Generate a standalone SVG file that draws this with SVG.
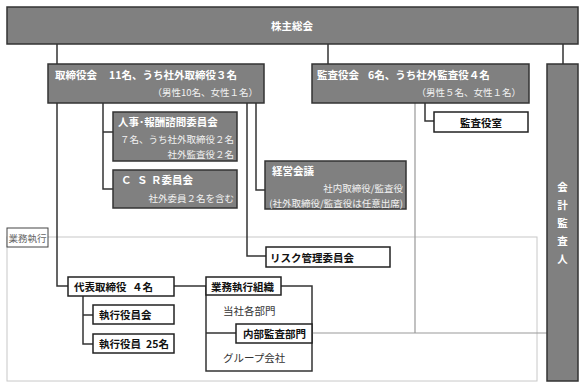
<svg xmlns="http://www.w3.org/2000/svg" width="583" height="386" viewBox="0 0 583 386">
<style>
text{font-family:"Noto Sans CJK JP","Noto Sans",sans-serif;dominant-baseline:central}
.dark{fill:#808080;stroke:#333;stroke-width:1.5}
.wbox{fill:#fff;stroke:#222;stroke-width:1.5}
.tw{fill:#fff;font-weight:bold;font-size:10.5px}
.sw{fill:#f2f2f2;font-size:9.5px}
.tb{fill:#111;font-weight:bold;font-size:10.5px}
.tn{fill:#333;font-size:10.5px}
.con{fill:none;stroke:#333;stroke-width:1.5}
.gcon{fill:none;stroke:#999;stroke-width:1.2}
</style>
<rect width="583" height="386" fill="#fff"/>
<g id="gyomu-area">
<rect x="7" y="237" width="530" height="144" fill="none" stroke="#c8c8c8" stroke-width="1"/>
<rect x="7" y="228" width="41" height="19" fill="#fff" stroke="#444" stroke-width="1"/>
<text x="27.5" y="237.5" text-anchor="middle" fill="#666" font-size="9.5">業務執行</text>
</g>
<g id="connectors">
<path class="con" d="M57,44V64M328,44V64M563,44V64"/>
<path class="con" d="M57,103V286H68"/>
<path class="con" d="M103,103V189H113M103,132H113"/>
<path class="con" d="M256,103V190H265"/>
<path class="con" d="M247,103V256H266"/>
<path class="con" d="M425,103V121H434"/>
<path class="con" d="M174,286H206"/>
<path class="con" d="M83,296V344H93M83,315H93"/>
<path class="con" d="M206,286V371H312V286H281M206,333H236"/>
<path class="gcon" d="M415,103V333M312,333H547"/>
</g>
<g id="kabunushi">
<rect class="dark" x="7" y="7" width="571" height="37"/>
<text class="tw" x="292" y="25.5" text-anchor="middle">株主総会</text>
</g>
<g id="torishimariyakukai">
<rect class="dark" x="48" y="64" width="216" height="39"/>
<text class="tw" x="55" y="74">取締役会</text>
<text class="tw" x="109" y="74">11名、うち社外取締役３名</text>
<text class="sw" x="258" y="92" text-anchor="end">（男性10名、女性１名）</text>
</g>
<g id="kansayakukai">
<rect class="dark" x="312" y="64" width="217" height="39"/>
<text class="tw" x="317" y="74">監査役会</text>
<text class="tw" x="368" y="74">6名、うち社外監査役４名</text>
<text class="sw" x="521" y="92" text-anchor="end">（男性５名、女性１名）</text>
</g>
<g id="kaikei">
<rect class="dark" x="547" y="64" width="31" height="317"/>
<text class="tw" x="562.5" y="186" text-anchor="middle">会</text>
<text class="tw" x="562.5" y="204" text-anchor="middle">計</text>
<text class="tw" x="562.5" y="222" text-anchor="middle">監</text>
<text class="tw" x="562.5" y="240" text-anchor="middle">査</text>
<text class="tw" x="562.5" y="258" text-anchor="middle">人</text>
</g>
<g id="jinji">
<rect class="dark" x="113" y="112" width="124" height="49"/>
<text class="tw" x="118" y="121">人事･報酬諮問委員会</text>
<text class="sw" x="234" y="139" text-anchor="end">７名、うち社外取締役２名</text>
<text class="sw" x="234" y="154" text-anchor="end">社外監査役２名</text>
</g>
<g id="csr">
<rect class="dark" x="113" y="170" width="124" height="38"/>
<text class="tw" x="121" y="179">Ｃ</text>
<text class="tw" x="137" y="179">Ｓ</text>
<text class="tw" x="151" y="179">Ｒ委員会</text>
<text class="sw" x="234" y="198" text-anchor="end">社外委員２名を含む</text>
</g>
<g id="keiei">
<rect class="dark" x="265" y="161" width="141" height="48"/>
<text class="tw" x="272" y="170">経営会議</text>
<text class="sw" x="403" y="188" text-anchor="end">社内取締役/監査役</text>
<text class="sw" x="403" y="203" text-anchor="end" font-size="8.7">(社外取締役/監査役は任意出席)</text>
</g>
<g id="kansayakushitsu">
<rect class="wbox" x="434" y="112" width="94" height="20"/>
<text class="tb" x="481" y="122" text-anchor="middle">監査役室</text>
</g>
<g id="risk">
<rect class="wbox" x="266" y="247" width="124" height="20"/>
<text class="tb" x="270" y="257">リスク管理委員会</text>
</g>
<g id="daihyo">
<rect class="wbox" x="68" y="277" width="106" height="19"/>
<text class="tb" x="74" y="286" font-size="11">代表取締役</text>
<text class="tb" x="132" y="286" font-size="11">４名</text>
</g>
<g id="shikko-kai">
<rect class="wbox" x="93" y="305" width="81" height="19"/>
<text class="tb" x="99" y="314">執行役員会</text>
</g>
<g id="shikko-yakuin">
<rect class="wbox" x="93" y="334" width="81" height="19"/>
<text class="tb" x="99" y="343">執行役員</text>
<text class="tb" x="146" y="343">25名</text>
</g>
<g id="gyomu-soshiki">
<rect class="wbox" x="206" y="277" width="75" height="18"/>
<text class="tb" x="211" y="286" font-size="9.8">業務執行組織</text>
<text class="tn" x="223" y="310">当社各部門</text>
<text class="tn" x="223" y="357">グループ会社</text>
</g>
<g id="naibu-kansa">
<rect class="wbox" x="236" y="324" width="76" height="19"/>
<text class="tb" x="243" y="333">内部監査部門</text>
</g>
</svg>
